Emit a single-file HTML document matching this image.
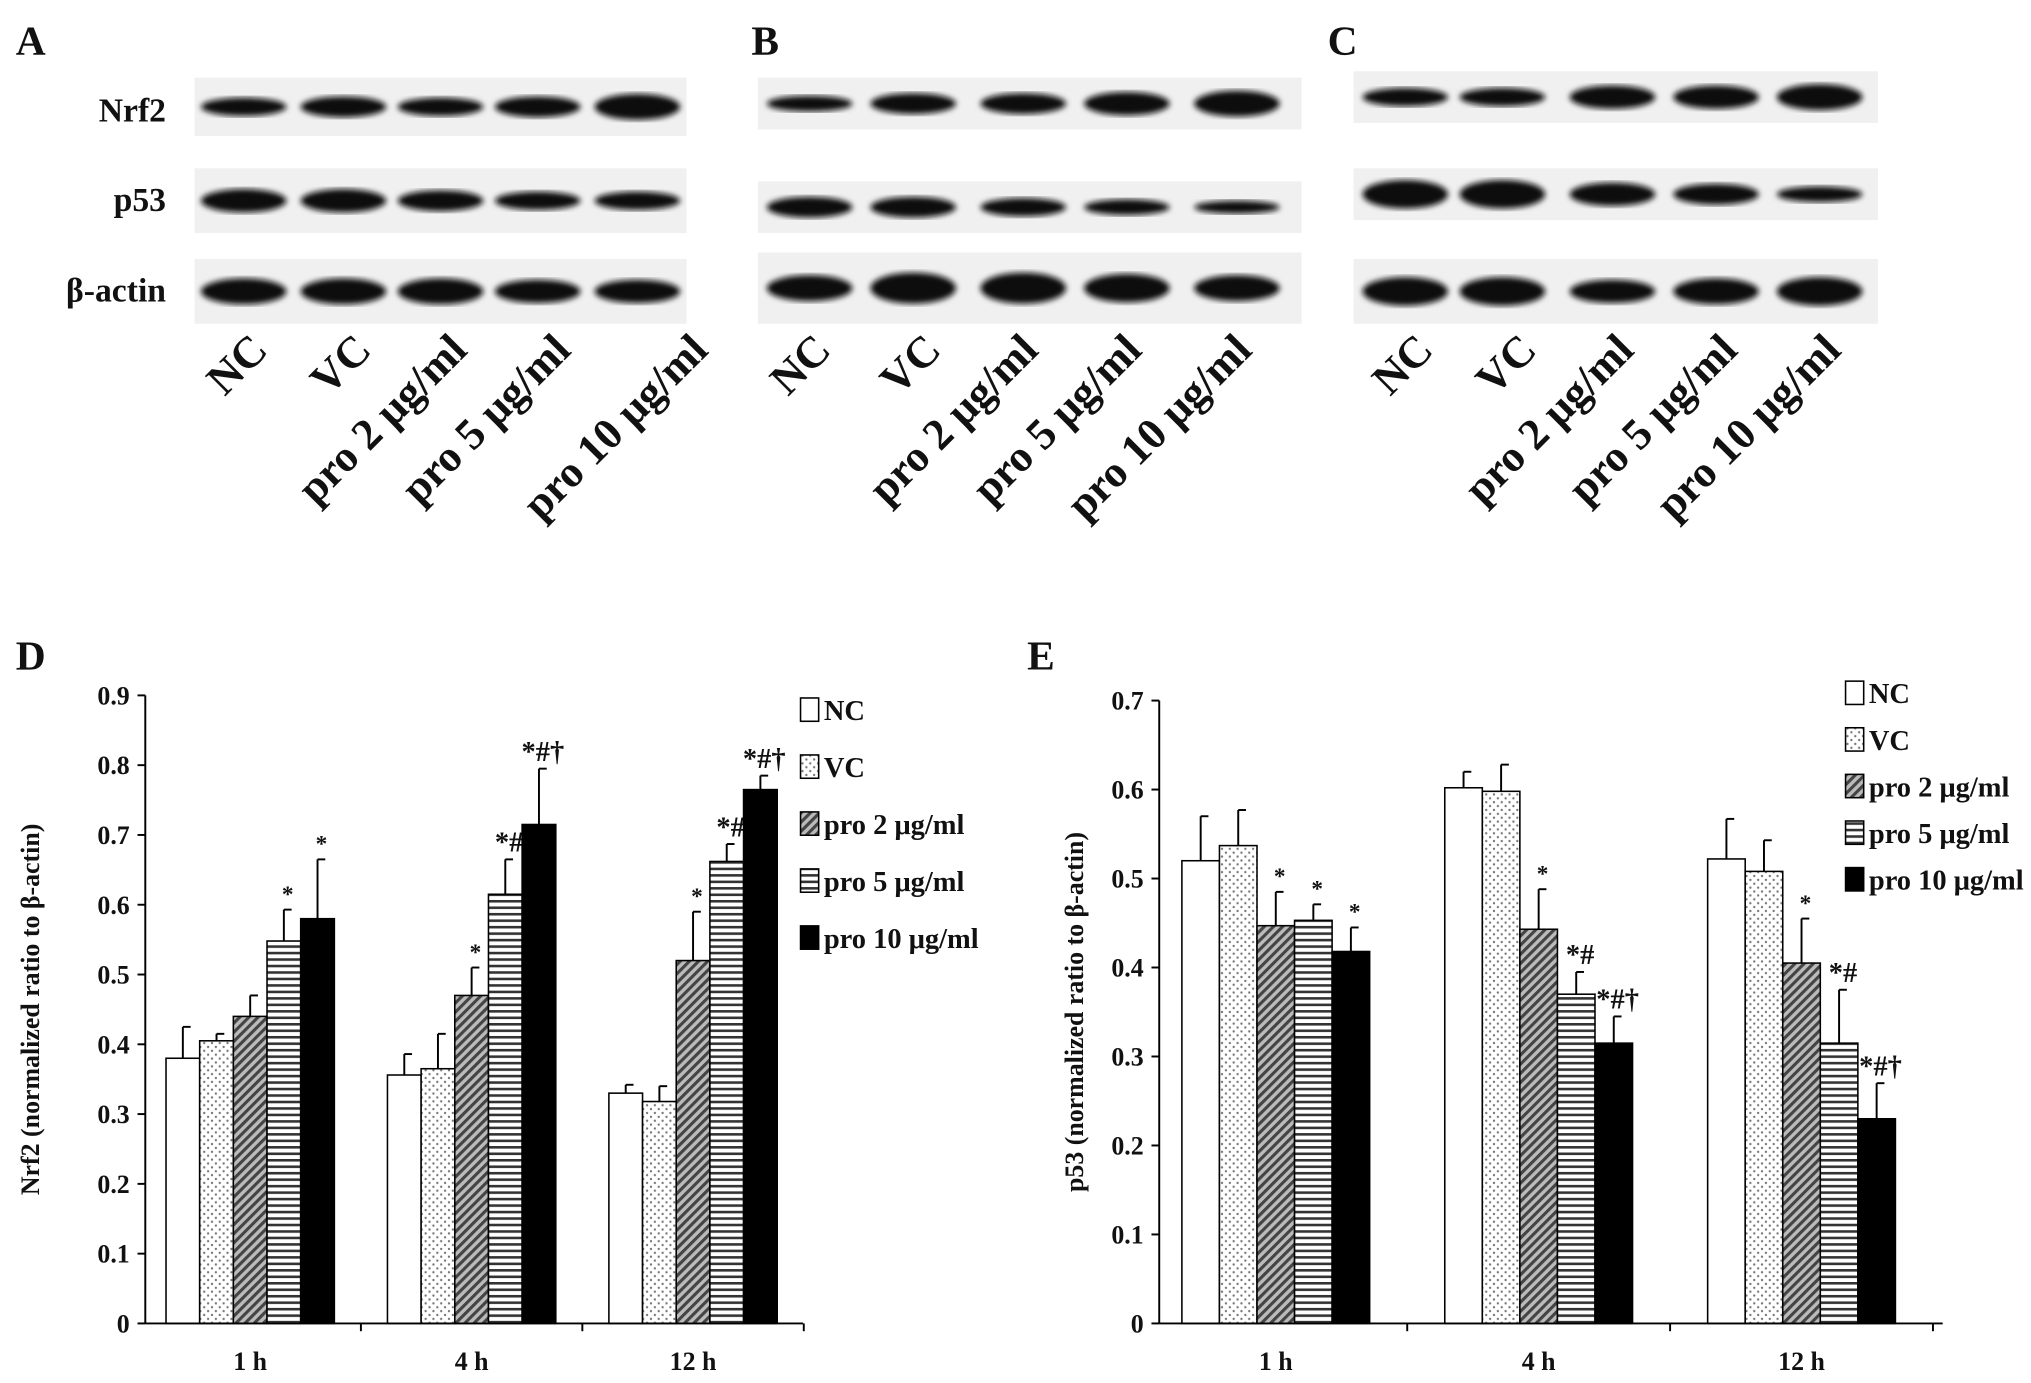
<!DOCTYPE html>
<html><head><meta charset="utf-8"><style>
html,body{margin:0;padding:0;background:#fff}
svg{display:block}
text{font-family:"Liberation Serif",serif;font-weight:bold;fill:#111}
</style></head><body>
<svg id="fig" width="2031" height="1383" viewBox="0 0 1568 1068" xmlns="http://www.w3.org/2000/svg">
<defs>
<pattern id="dots" width="6" height="6" patternUnits="userSpaceOnUse"><rect width="6" height="6" fill="#fff"/><circle cx="1.5" cy="1.5" r="0.9" fill="#777"/><circle cx="4.5" cy="4.5" r="0.9" fill="#777"/></pattern>
<pattern id="diag" width="5" height="5" patternUnits="userSpaceOnUse" patternTransform="rotate(45)"><rect width="5" height="5" fill="#bbb"/><rect width="2.4" height="5" fill="#444"/></pattern>
<pattern id="horiz" width="5" height="5" patternUnits="userSpaceOnUse"><rect width="5" height="5" fill="#fff"/><rect width="5" height="2" fill="#333"/></pattern>
<filter id="blur"><feGaussianBlur stdDeviation="2.2"/></filter>
</defs>
<g>
<text x="12" y="42" font-size="32">A</text>
<text x="580" y="42" font-size="32">B</text>
<text x="1025" y="42" font-size="32">C</text>
<text x="12" y="517" font-size="32">D</text>
<text x="793" y="517" font-size="32">E</text>
</g>
<g>
<text x="128" y="94" font-size="26" text-anchor="end">Nrf2</text>
<text x="128" y="163" font-size="26" text-anchor="end">p53</text>
<text x="128" y="233" font-size="26" text-anchor="end">β-actin</text>
</g>
<g id="blots"></g>
<g id="chartD"></g>
<g id="chartE"></g>
</svg>
<script>
const NS="http://www.w3.org/2000/svg";
function mk(p,tag,a,txt){const e=document.createElementNS(NS,tag);for(const k in a)e.setAttribute(k,a[k]);if(txt!==undefined)e.textContent=txt;p.appendChild(e);return e;}
const laneLabels=["NC","VC","pro 2 μg/ml","pro 5 μg/ml","pro 10 μg/ml"];
const blotPanels=[
 {x0:150,x1:530,rows:[[60,105],[130,180],[200,250]],cx:[188,265,340,415,492],th:[[7,8,7,8,10],[9,9,8,7,7],[10,10,10,9,9]],lx:[208,288,362,442,548]},
 {x0:585,x1:1005,rows:[[60,100],[140,180],[195,250]],cx:[625,705,790,870,955],th:[[6,8,8,9,10],[8,8,7,6,5],[10,12,12,11,10]],lx:[643,728,803,883,968]},
 {x0:1045,x1:1450,rows:[[55,95],[130,170],[200,250]],cx:[1085,1160,1245,1325,1405],th:[[7,7,9,9,10],[11,11,9,8,6],[11,11,9,10,11]],lx:[1108,1188,1263,1343,1423]}
];
const blots=document.getElementById('blots');
blotPanels.forEach((bp,pi)=>{
 const g=mk(blots,'g',{});
 
 
 bp.rows.forEach((r,ri)=>{
  mk(g,'rect',{x:bp.x0,y:r[0],width:bp.x1-bp.x0,height:r[1]-r[0],fill:'#f0f0f0'});
  bp.cx.forEach((c,li)=>{
   const b=mk(g,'ellipse',{cx:c,cy:(r[0]+r[1])/2,rx:33,ry:bp.th[ri][li],fill:'#111',filter:'url(#blur)'});
   
   
  });
 });
 laneLabels.forEach((l,li)=>{
  const t=mk(g,'text',{x:bp.lx[li],y:272,'font-size':34,'text-anchor':'end',transform:`rotate(-45 ${bp.lx[li]} 272)`},l);
  
  
 });
});

const categories=["1 h","4 h","12 h"];
const seriesNames=["NC","VC","pro 2 μg/ml","pro 5 μg/ml","pro 10 μg/ml"];
const fills=["#fff","url(#dots)","url(#diag)","url(#horiz)","#000"];
const nrf2Values=[[0.38,0.405,0.44,0.548,0.58],[0.356,0.365,0.47,0.615,0.715],[0.33,0.318,0.52,0.662,0.765]];
const nrf2Errors=[[0.045,0.01,0.03,0.045,0.085],[0.03,0.05,0.04,0.05,0.08],[0.012,0.022,0.07,0.025,0.02]];
const nrf2Marks=[["","","","*","*"],["","","*","*#","*#†"],["","","*","*#","*#†"]];
const nrf2Ticks=["0","0.1","0.2","0.3","0.4","0.5","0.6","0.7","0.8","0.9"];
const p53Values=[[0.52,0.537,0.447,0.453,0.418],[0.602,0.598,0.443,0.37,0.315],[0.522,0.508,0.405,0.315,0.23]];
const p53Errors=[[0.05,0.04,0.038,0.018,0.027],[0.018,0.03,0.045,0.025,0.03],[0.045,0.035,0.05,0.06,0.04]];
const p53Marks=[["","","*","*","*"],["","","*","*#","*#†"],["","","*","*#","*#†"]];
const p53Ticks=["0","0.1","0.2","0.3","0.4","0.5","0.6","0.7"];

function chart(id,cfg){
 const g=document.getElementById(id);
 
 
 const yMax=parseFloat(cfg.ticks[cfg.ticks.length-1]);
 const y=v=>cfg.y0-(v/yMax)*(cfg.y0-cfg.yTop);
 const gx=i=>cfg.c0+i*cfg.step;
 cfg.values.forEach((grp,ci)=>{
  grp.forEach((v,si)=>{
   const x=gx(ci)-2.5*cfg.bw+si*cfg.bw;
   const top=y(v), et=y(v+cfg.errors[ci][si]), mid=x+cfg.bw/2;
   const el=mk(g,'line',{x1:mid,x2:mid,y1:top,y2:et,stroke:'#000','stroke-width':1.5});
   
   
   mk(g,'line',{x1:mid,x2:mid+6,y1:et,y2:et,stroke:'#000','stroke-width':1.5});
   const r=mk(g,'rect',{x:x,y:top,width:cfg.bw,height:cfg.y0-top,fill:fills[si],stroke:'#000','stroke-width':1.2});
   
   
   const m=cfg.marks[ci][si];
   if(m){const t=mk(g,'text',{x:mid+3,y:et-6,'font-size':m.length>1?22:18,'text-anchor':'middle','font-weight':'normal'},m);
    
    }
  });
  const t=mk(g,'text',{x:gx(ci),y:cfg.y0+36,'font-size':20,'text-anchor':'middle'},categories[ci]);
  
  
  mk(g,'line',{x1:gx(ci)+cfg.step/2,x2:gx(ci)+cfg.step/2,y1:cfg.y0,y2:cfg.y0+6,stroke:'#000','stroke-width':1.5});
 });
 const ya=mk(g,'line',{x1:cfg.ax,x2:cfg.ax,y1:cfg.yTop,y2:cfg.y0,stroke:'#000','stroke-width':1.5});
 
 const xa=mk(g,'line',{x1:cfg.ax,x2:cfg.axEnd,y1:cfg.y0,y2:cfg.y0,stroke:'#000','stroke-width':1.5});
 
 cfg.ticks.forEach(tv=>{
  const yy=y(parseFloat(tv));
  mk(g,'line',{x1:cfg.ax-6,x2:cfg.ax,y1:yy,y2:yy,stroke:'#000','stroke-width':1.5});
  const t=mk(g,'text',{x:cfg.ax-12,y:yy+7,'font-size':20,'text-anchor':'end'},tv);
  
  
 });
 const tt=mk(g,'text',{x:cfg.titleX,y:(cfg.y0+cfg.yTop)/2,'font-size':20,'text-anchor':'middle',transform:`rotate(-90 ${cfg.titleX} ${(cfg.y0+cfg.yTop)/2})`},cfg.title);
 
 
 seriesNames.forEach((n,si)=>{
  const ly=cfg.ly0+si*cfg.lstep;
  const lg=mk(g,'g',{});
  
  
  mk(lg,'rect',{x:cfg.lx,y:ly-9,width:14,height:18,fill:fills[si],stroke:'#000','stroke-width':1.2});
  mk(lg,'text',{x:cfg.lx+18,y:ly+8,'font-size':22},n);
 });
}
chart('chartD',{name:'nrf2-chart',values:nrf2Values,errors:nrf2Errors,marks:nrf2Marks,ticks:nrf2Ticks,
 y0:1022,yTop:537,ax:112,axEnd:620,c0:193,step:171,bw:26,titleX:30,
 title:'Nrf2 (normalized ratio to β-actin)',lx:618,ly0:548,lstep:44});
chart('chartE',{name:'p53-chart',values:p53Values,errors:p53Errors,marks:p53Marks,ticks:p53Ticks,
 y0:1022,yTop:541,ax:895,axEnd:1500,c0:985,step:203,bw:29,titleX:836,
 title:'p53 (normalized ratio to β-actin)',lx:1425,ly0:535,lstep:36});
</script>
</body></html>
